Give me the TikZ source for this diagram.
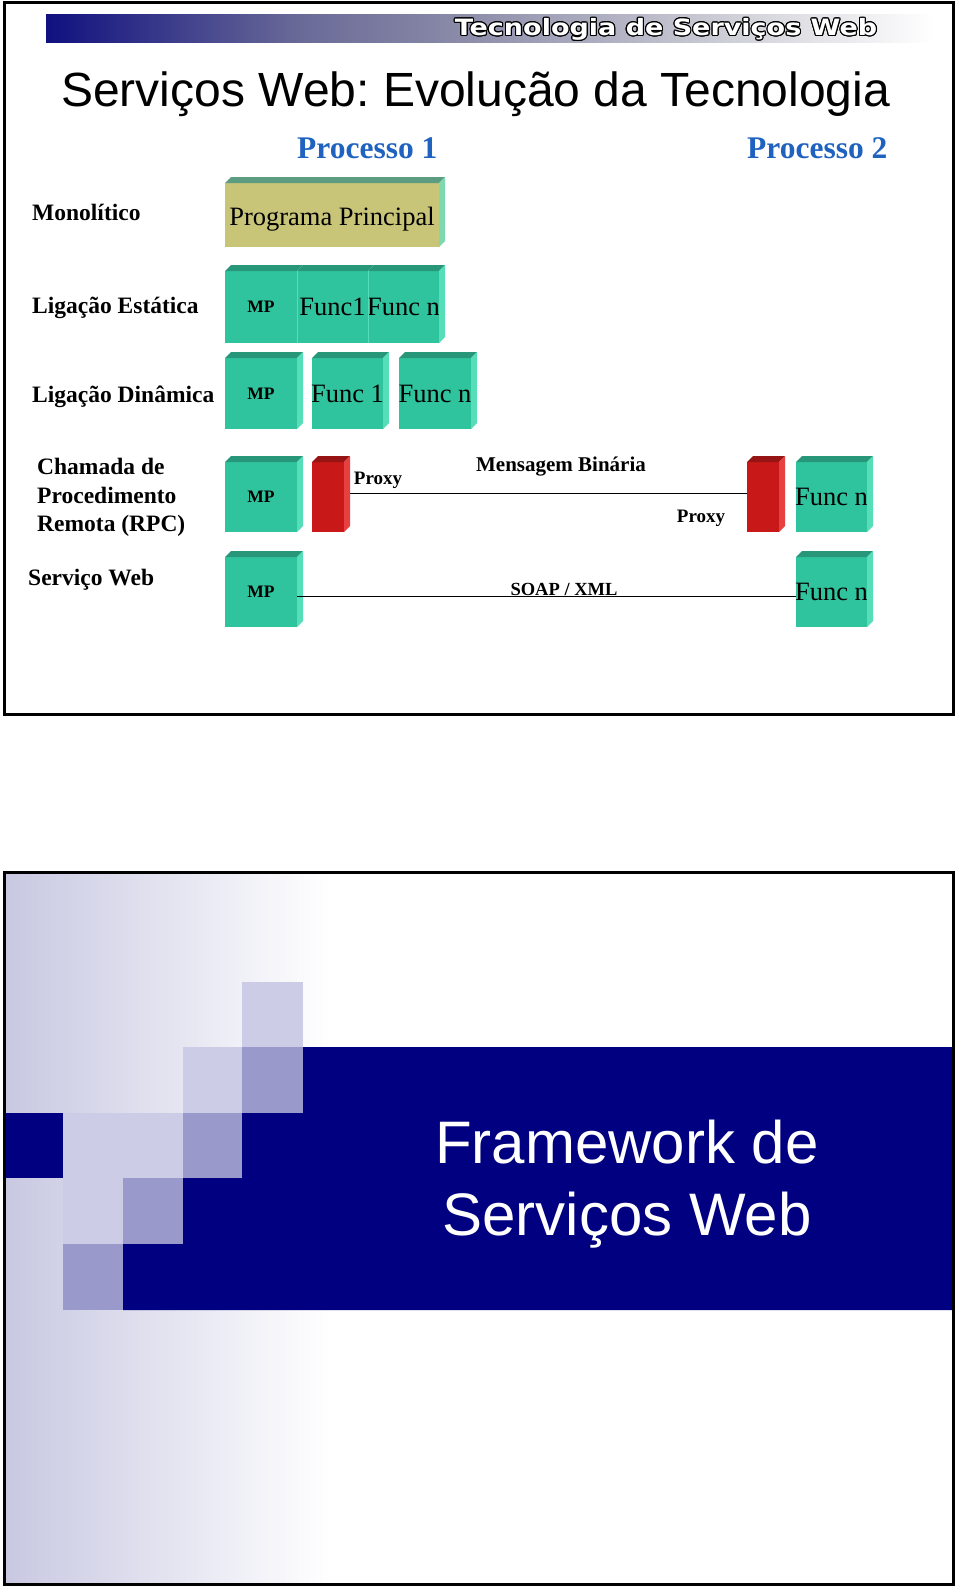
\documentclass[tikz,border=0pt]{standalone}
\usepackage{fontspec}
\setmainfont{Liberation Serif}
\newfontfamily\arialf{Liberation Sans}
\newfontfamily\hdrf[FakeStretch=1.2]{DejaVu Sans}
\usepackage{contour}
\contourlength{1.1pt}
\definecolor{tealF}{RGB}{48,196,158}
\definecolor{tealT}{RGB}{40,150,120}
\definecolor{tealS}{RGB}{86,222,184}
\definecolor{khakiF}{RGB}{200,196,120}
\definecolor{khakiT}{RGB}{92,156,128}
\definecolor{khakiS}{RGB}{126,216,176}
\definecolor{redF}{RGB}{200,24,24}
\definecolor{redT}{RGB}{150,20,20}
\definecolor{redS}{RGB}{232,64,64}
\definecolor{procblue}{RGB}{32,98,192}
\definecolor{navy}{RGB}{0,0,128}
\definecolor{lightc}{RGB}{204,204,230}
\definecolor{medc}{RGB}{153,153,204}
\definecolor{lav}{RGB}{200,200,226}
\definecolor{hdrA}{RGB}{16,16,128}
\definecolor{hdrB}{RGB}{106,106,152}
\definecolor{hdrC}{RGB}{133,133,165}
\definecolor{hdrD}{RGB}{210,210,218}
\pgfdeclarehorizontalshading{hdrshade}{100bp}{color(0bp)=(hdrA); color(25bp)=(hdrA); color(39bp)=(hdrB); color(46.5bp)=(hdrC); color(63.5bp)=(hdrD); color(74bp)=(white); color(100bp)=(white)}
\newcommand\cubefaces[3]{%
  \fill[#2] (#1.north west) -- ++(6,-6) -- ([shift={(6,-6)}]#1.north east) -- (#1.north east) -- cycle;
  \fill[#3] (#1.north east) -- ([shift={(6,-6)}]#1.north east) -- ([shift={(6,-6)}]#1.south east) -- (#1.south east) -- cycle;
}
\frenchspacing
\begin{document}
\begin{tikzpicture}[x=1pt,y=-1pt,
  front/.style={fill=#1, inner sep=0pt, outer sep=0pt, rectangle},
  rowlbl/.style={anchor=base west, inner sep=0pt, align=left, font=\bfseries\fontsize{23.5}{28.5}\selectfont},
  proclbl/.style={anchor=base west, inner sep=0pt, text=procblue, font=\bfseries\fontsize{31.5}{31.5}\selectfont},
  mpfont/.style={font=\bfseries\fontsize{17.5}{17.5}\selectfont},
  funcfont/.style={font=\fontsize{26.5}{26.5}\selectfont},
  smalllbl/.style={inner sep=0pt, font=\bfseries\fontsize{19}{19}\selectfont},
  conn/.style={draw=black, line width=1pt}
]
\useasboundingbox (0,0) rectangle (960,1595);
\fill[white] (0,0) rectangle (960,1595);

% ---------------- slide 1 ----------------
\shade[shading=hdrshade] (46,15) rectangle (952,43);
\node[inner sep=0pt, font=\hdrf\bfseries\fontsize{22.5}{22.5}\selectfont] (hdr) at (666,30) {\color{white}\contour{black}{Tecnologia de Serviços Web}};
\node[anchor=base west, inner sep=0pt, font=\arialf\fontsize{48}{48}\selectfont] (title) at (61,106) {Serviços Web: Evolução da Tecnologia};
\node[proclbl] (p1) at (297,158) {Processo 1};
\node[proclbl] (p2) at (747,158) {Processo 2};

\node[rowlbl] (l1) at (32,220) {Monolítico};
\node[rowlbl] (l2) at (32,313) {Ligação Estática};
\node[rowlbl] (l3) at (32,402) {Ligação Dinâmica};
\node[rowlbl, anchor=north west] (l4) at (37,458) {Chamada de\\Procedimento\\Remota (RPC)};
\node[rowlbl] (l5) at (28,585) {Serviço Web};

% row 1
\node[front=khakiF, minimum width=214pt, minimum height=64pt, funcfont] (pp) at (332,215) {\raisebox{-10pt}[0pt][0pt]{Programa Principal}};
\cubefaces{pp}{khakiT}{khakiS}

% row 2
\node[front=tealF, minimum width=72pt, minimum height=72pt, mpfont] (mp2) at (261,307) {MP};
\cubefaces{mp2}{tealT}{tealS}
\node[front=tealF, minimum width=71pt, minimum height=72pt, funcfont] (f12) at (332.5,307) {\makebox[0pt]{Func1}};
\cubefaces{f12}{tealT}{tealS}
\node[front=tealF, minimum width=71pt, minimum height=72pt, funcfont] (fn2) at (403.5,307) {\makebox[0pt]{Func n}};
\cubefaces{fn2}{tealT}{tealS}
\draw[tealS, line width=0.7pt] (f12.north west) -- (f12.south west) (fn2.north west) -- (fn2.south west);

% row 3
\node[front=tealF, minimum width=72pt, minimum height=71pt, mpfont] (mp3) at (261,393.5) {MP};
\cubefaces{mp3}{tealT}{tealS}
\node[front=tealF, minimum width=71pt, minimum height=71pt, funcfont] (f13) at (347.5,393.5) {\makebox[0pt]{Func 1}};
\cubefaces{f13}{tealT}{tealS}
\node[front=tealF, minimum width=72pt, minimum height=71pt, funcfont] (fn3) at (435,393.5) {\makebox[0pt]{Func n}};
\cubefaces{fn3}{tealT}{tealS}

% row 4 (RPC)
\node[front=tealF, minimum width=72pt, minimum height=70pt, mpfont] (mp4) at (261,497) {MP};
\cubefaces{mp4}{tealT}{tealS}
\node[front=redF, minimum width=32pt, minimum height=70pt] (pxl) at (328,497) {};
\cubefaces{pxl}{redT}{redS}
\node[front=redF, minimum width=32pt, minimum height=70pt] (pxr) at (763,497) {};
\cubefaces{pxr}{redT}{redS}
\node[front=tealF, minimum width=71pt, minimum height=70pt, funcfont] (fn4) at (831.5,497) {\makebox[0pt]{Func n}};
\cubefaces{fn4}{tealT}{tealS}
\draw[conn] ([shift={(6,-4)}]pxl.east) -- ([shift={(0,-4)}]pxr.west);
\node[smalllbl] (prl) at (378,480) {Proxy};
\node[smalllbl, font=\bfseries\fontsize{21}{21}\selectfont] (msg) at (561,467) {Mensagem Binária};
\node[smalllbl] (prr) at (701,518) {Proxy};

% row 5 (Web service)
\node[front=tealF, minimum width=72pt, minimum height=70pt, mpfont] (mp5) at (261,592) {MP};
\cubefaces{mp5}{tealT}{tealS}
\node[front=tealF, minimum width=71pt, minimum height=70pt, funcfont] (fn5) at (831.5,592) {\makebox[0pt]{Func n}};
\cubefaces{fn5}{tealT}{tealS}
\draw[conn] ([shift={(0,4)}]mp5.east) -- ([shift={(0,4)}]fn5.west);
\node[anchor=base, inner sep=0pt, font=\bfseries\fontsize{18.5}{18.5}\selectfont] (soap) at (564,595) {SOAP / XML};

\draw[line width=3pt] (4,3) rectangle (953,714);

% ---------------- slide 2 ----------------
\shade[left color=lav, right color=white] (5,873) rectangle (330,1583);
\fill[navy] (303,1047) -- (952,1047) -- (952,1310) -- (123,1310) -- (123,1244) -- (183,1244) -- (183,1178) -- (242,1178) -- (242,1113) -- (303,1113) -- cycle;
\fill[navy] (5,1113) rectangle (63,1178);
\fill[lightc] (242,982) rectangle (303,1047);
\fill[lightc] (183,1047) rectangle (242,1113);
\fill[lightc] (63,1113) rectangle (183,1178);
\fill[lightc] (63,1178) rectangle (123,1244);
\fill[medc] (242,1047) rectangle (303,1113);
\fill[medc] (183,1113) rectangle (242,1178);
\fill[medc] (123,1178) rectangle (183,1244);
\fill[medc] (63,1244) rectangle (123,1310);
\node[anchor=base, inner sep=0pt, text=white, font=\arialf\fontsize{60}{60}\selectfont] (fw1) at (627,1163) {Framework de};
\node[anchor=base, inner sep=0pt, text=white, font=\arialf\fontsize{60}{60}\selectfont] (fw2) at (627,1235) {Serviços Web};
\draw[line width=3pt] (4,872) rectangle (953,1584);
\end{tikzpicture}
\end{document}
